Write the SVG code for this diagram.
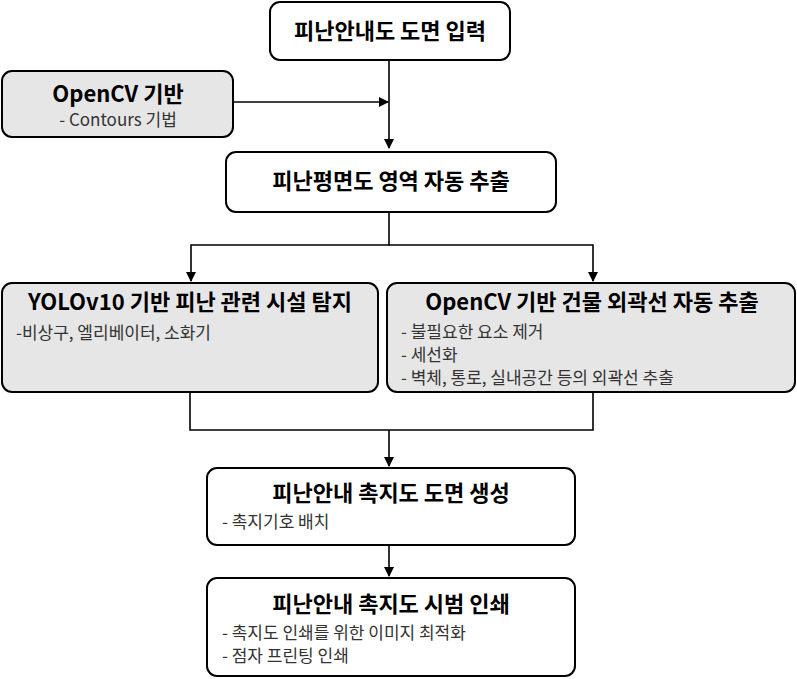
<svg xmlns="http://www.w3.org/2000/svg" width="797" height="679" viewBox="0 0 797 679">
<style>
.b{fill:#fff;stroke:#000;stroke-width:2}
.g{fill:#e6e6e6;stroke:#000;stroke-width:2}
.t{font-family:"Noto Sans CJK KR","Noto Sans",sans-serif;font-weight:bold;font-size:22px;fill:#000}
.s{font-family:"Noto Sans CJK KR","Noto Sans",sans-serif;font-size:17px;fill:#333}
.c{fill:none;stroke:#000;stroke-width:1.6}
</style>
<defs><marker id="a" markerWidth="10" markerHeight="10" refX="9" refY="5" orient="auto" markerUnits="userSpaceOnUse"><path d="M0,0L10,5L0,10z" fill="#000"/></marker></defs>
<rect width="797" height="679" fill="#fff"/>
<g id="connectors">
<path class="c" d="M389,60V148" marker-end="url(#a)"/>
<path class="c" d="M233,102H388" marker-end="url(#a)"/>
<path class="c" d="M389,212V245H191V281" marker-end="url(#a)"/>
<path class="c" d="M389,245H593V281" marker-end="url(#a)"/>
<path class="c" d="M190,392V430H593V392"/>
<path class="c" d="M389,430V466" marker-end="url(#a)"/>
<path class="c" d="M389,545V576" marker-end="url(#a)"/>
</g>
<g id="n1"><rect class="b" x="270" y="2" width="240" height="58" rx="10"/><text class="t" x="390" y="39" text-anchor="middle">피난안내도 도면 입력</text></g>
<g id="n2"><rect class="g" x="2" y="71" width="231" height="66" rx="10"/><text class="t" x="118" y="102" text-anchor="middle">OpenCV 기반</text><text class="s" x="118" y="126" text-anchor="middle">- Contours 기법</text></g>
<g id="n3"><rect class="b" x="226" y="152" width="330" height="60" rx="10"/><text class="t" x="391" y="189" text-anchor="middle">피난평면도 영역 자동 추출</text></g>
<g id="n4"><rect class="g" x="2" y="283" width="376" height="109" rx="10"/><text class="t" x="190" y="310" text-anchor="middle">YOLOv10 기반 피난 관련 시설 탐지</text><text class="s" x="16" y="339">-비상구, 엘리베이터, 소화기</text></g>
<g id="n5"><rect class="g" x="387" y="283" width="408" height="109" rx="10"/><text class="t" x="592" y="310" text-anchor="middle">OpenCV 기반 건물 외곽선 자동 추출</text><text class="s" x="401" y="338">- 불필요한 요소 제거</text><text class="s" x="401" y="361">- 세선화</text><text class="s" x="401" y="384">- 벽체, 통로, 실내공간 등의 외곽선 추출</text></g>
<g id="n6"><rect class="b" x="207" y="468" width="368" height="77" rx="10"/><text class="t" x="391" y="501" text-anchor="middle">피난안내 촉지도 도면 생성</text><text class="s" x="222" y="528">- 촉지기호 배치</text></g>
<g id="n7"><rect class="b" x="207" y="578" width="368" height="98" rx="10"/><text class="t" x="391" y="612" text-anchor="middle">피난안내 촉지도 시범 인쇄</text><text class="s" x="222" y="639">- 촉지도 인쇄를 위한 이미지 최적화</text><text class="s" x="222" y="662">- 점자 프린팅 인쇄</text></g>
</svg>
